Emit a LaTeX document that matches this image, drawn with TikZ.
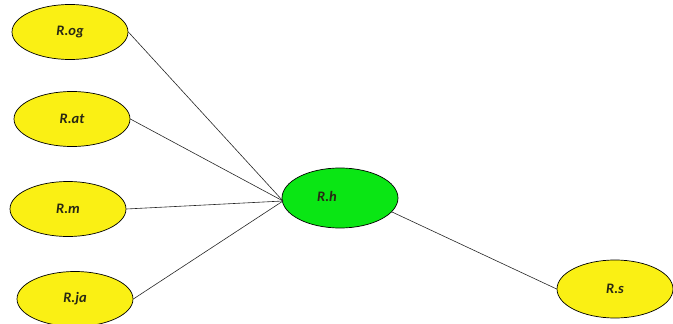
\documentclass[tikz,border=0pt]{standalone}
\usepackage{fontspec}
\setmainfont{Carlito}
\usetikzlibrary{shapes.geometric}
\definecolor{yel}{RGB}{250,240,20}
\definecolor{grn}{RGB}{10,230,20}
\definecolor{txt}{RGB}{40,40,20}
\tikzset{
  lv/.style={ellipse, draw=black, line width=0.7pt, minimum width=116pt, minimum height=55pt, inner sep=0pt, font=\bfseries\itshape\fontsize{14.5}{16}\selectfont, text=txt},
  yl/.style={lv, fill=yel},
  gr/.style={lv, fill=grn, minimum height=60pt},
  conn/.style={draw=black!85, line width=0.6pt}
}
\begin{document}
\begin{tikzpicture}[x=1pt,y=-1pt]
\useasboundingbox (0,0) rectangle (673,324);
\node[yl] (og) at (70,32) {\raisebox{3pt}{R.og}};
\node[yl] (at) at (72,119) {R.at};
\node[yl] (m) at (68,209) {R.m};
\node[yl] (ja) at (75,299) {R.ja};
\node[gr] (h) at (340,198) {\hspace*{-26pt}\raisebox{3pt}{R.h}};
\node[yl, minimum height=58pt] (s) at (615,289) {R.s};
\coordinate (hin) at (283,201);
\draw[conn] (og.east) -- (hin);
\draw[conn] (at.east) -- (hin);
\draw[conn] (m.east) -- (hin);
\draw[conn] (ja.east) -- (hin);
\draw[conn] (h.-15) -- (s.west);
\end{tikzpicture}
\end{document}
